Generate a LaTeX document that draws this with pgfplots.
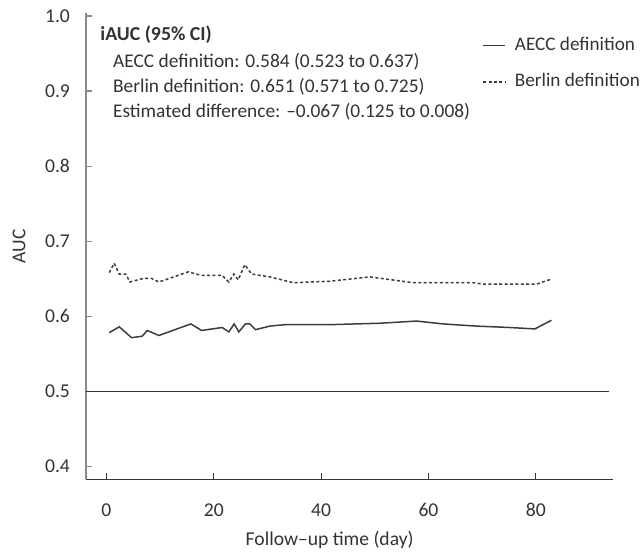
\documentclass[border=0pt]{standalone}
\usepackage{fontspec}
\setmainfont{Carlito}
\usepackage{pgfplots}
\pgfplotsset{compat=1.18}

\definecolor{ink}{HTML}{333333}
\definecolor{spine}{HTML}{8A8A8A}
\definecolor{curve}{HTML}{3C3C3C}

\pgfplotstableread{
x     y
0.53  0.5783
2.39  0.5860
4.69  0.5716
6.67  0.5735
7.60  0.5812
9.78  0.5745
15.74 0.5899
17.72 0.5812
21.57 0.5851
22.81 0.5793
23.80 0.5899
24.67 0.5793
25.91 0.5899
26.72 0.5899
27.78 0.5822
30.45 0.5870
33.24 0.5889
41.6  0.5889
50.9  0.5908
57.8  0.5937
62.7  0.5899
68.9  0.5870
75.2  0.5851
79.8  0.5832
82.9  0.5947
}\aecc

\pgfplotstableread{
x     y
0.53  0.6582
1.46  0.6708
2.39  0.6563
3.63  0.6563
4.38  0.6457
6.86  0.6505
8.41  0.6505
9.78  0.6457
15.24 0.6592
17.72 0.6544
21.57 0.6544
22.81 0.6457
23.74 0.6563
24.55 0.6486
25.79 0.6688
27.03 0.6563
30.45 0.6525
34.8  0.6448
41.6  0.6467
49.1  0.6525
57.1  0.6448
68.3  0.6448
70.2  0.6428
80.1  0.6428
82.9  0.6496
}\berlin

\begin{document}
\begin{tikzpicture}
\begin{axis}[scale only axis, width=263.3pt, height=233pt,
  xmin=-3.8, xmax=94.3, ymin=0.383, ymax=1.0035,
  axis lines=left, axis line style={-},
  x axis line style={draw=ink, line width=0.7pt},
  y axis line style={draw=spine, line width=0.7pt},
  xtick={0,20,40,60,80}, ytick={0.4,0.5,...,1.0},
  tick align=inside, major tick length=3pt,
  xtick style={draw=ink, line width=0.6pt},
  ytick style={draw=spine, line width=0.6pt},
  /pgf/number format/assume math mode=true,
  yticklabel style={/pgf/number format/fixed,
    /pgf/number format/fixed zerofill, /pgf/number format/precision=1,
    xshift=-4.5pt},
  tick label style={font=\fontsize{9.8}{11.7}\selectfont, text=ink},
  xticklabel style={yshift=-8.5pt},
  xlabel={Follow–up time (day)}, ylabel={AUC},
  label style={font=\fontsize{9.8}{11.7}\selectfont, text=ink},
  xlabel style={at={(axis cs:41.6,0.383)}, anchor=center, yshift=-30.3pt},
  ylabel style={at={(rel axis cs:-0.1272,0.5)}, anchor=center},
  legend style={at={(rel axis cs:0.752,0.958)}, anchor=north west,
    draw=none, fill=none, inner sep=0pt, row sep=6pt,
    font=\fontsize{9.6}{11.5}\selectfont, text=ink,
    /tikz/every odd column/.append style={column sep=2.5pt}},
  legend cell align=left,
  legend image code/.code={\draw[#1] (0pt,0pt) -- (11pt,0pt);},
  clip=false]
\addplot[curve, line width=0.75pt] table[x=x, y=y] {\aecc};
\addlegendentry{AECC definition}
\addplot[curve, line width=0.75pt, dash pattern=on 1.5pt off 1.2pt]
  table[x=x, y=y] {\berlin};
\addlegendentry{Berlin definition}
\addplot[ink, line width=0.7pt, forget plot] coordinates {(-3.8,0.5) (93.6,0.5)};
\node[anchor=base west, inner sep=0pt, text=ink,
  font=\bfseries\fontsize{9.9}{11.7}\selectfont]
  at (rel axis cs:0.0266,0.9406) {iAUC (95\% CI)};
\begin{scope}[every node/.style={anchor=base west, inner sep=0pt, text=ink,
  font=\fontsize{9.7}{11.6}\selectfont}]
\node at (rel axis cs:0.0507,0.8831) {AECC definition: 0.584 (0.523 to 0.637)};
\node at (rel axis cs:0.0507,0.8296) {Berlin definition: 0.651 (0.571 to 0.725)};
\node at (rel axis cs:0.0507,0.7758) {Estimated difference: –0.067 (0.125 to 0.008)};
\end{scope}
\end{axis}
\pgfresetboundingbox
\path[use as bounding box] (-43pt,-38.35pt) rectangle (278pt,239.65pt);
\end{tikzpicture}
\end{document}
